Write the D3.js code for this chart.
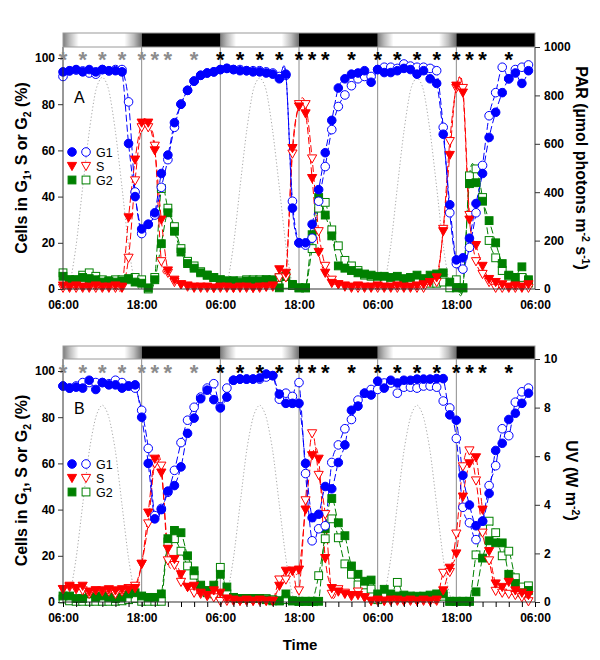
<!DOCTYPE html>
<html><head><meta charset="utf-8">
<script src="https://cdn.jsdelivr.net/npm/d3@7"></script>
<style>body{margin:0;background:#fff}svg{display:block}</style>
</head><body>
<svg id="chart" width="600" height="660"></svg>
<script>
// ---------------- DATA ----------------
const hours = [0,1,2,3,4,5,6,7,8,9,10,11,12,13,14,15,16,17,18,19,20,21,22,23,24,25,26,27,28,29,30,31,32,33,34,35,
  36,37,38,39,40,41,42,43,44,45,46,47,48,49,50,51,52,53,54,55,56,57,58,59,60,61,62,63,64,65,66,67,68,69,70,71];
const tickHours = [0,12,24,36,48,60,72];
const tickLabels = ["06:00","18:00","06:00","18:00","06:00","18:00","06:00"];
const asteriskHours = [0,3,6,9,12,14,16,20,24,27,30,33,36,38,40,44,48,51,54,57,60,62,64,68];
const asteriskGrey = [true,true,true,true,true,true,true,true,false,false,false,false,false,false,false,false,false,false,false,false,false,false,false,false];
const dayStarts = [0,24,48];
const nightStarts = [12,36,60];
const lightHours = [0,1,2,3,4,5,6,7,8,9,10,11,12, 24,25,26,27,28,29,30,31,32,33,34,35,36, 48,49,50,51,52,53,54,55,56,57,58,59,60];
const parValues = [0,20,180,420,650,820,875,820,650,420,180,20,0, 0,20,180,420,650,820,872,820,650,420,180,20,0, 0,20,180,420,650,820,872,820,650,420,180,20,0];
const uvValues = [0,0.3,1.8,4.0,6.2,7.6,8.1,7.6,6.2,4.0,1.8,0.3,0, 0,0.3,1.8,4.0,6.2,7.6,8.1,7.6,6.2,4.0,1.8,0.3,0, 0,0.3,1.8,4.0,6.2,7.6,8.1,7.6,6.2,4.0,1.8,0.3,0];

// Panel A (PAR)
const A_G1_filled = [94,94.5,95,94,95,94,95,94.5,94.5,94, 63,40,26,28,33,50,58,72,80,86, 90,92.5,93.5,94,95,95.5,95,94.5,94.5,94,
  94,93.5,93,91,93,35,20,20,28,43, 59,73,87,91,93,93.5,94.5,89.5,95,93.7, 93.7,94.5,95.5,95,93,94.5,91,89,67,36.5,
  12.6,13.5,22,37,50,65.6,76.5,85,91,93.5, 89,94.5];
const A_G1_open = [92,94.4,94.8,94.4,93.5,93,95,94.4,95,95, 81,42,24,28,32,44,56,70,80,86, 90,92.5,93.5,94,95,95.5,95,95,94.5,94.5,
  94.5,94,93.5,92,92.5,38,20,19,22,38, 53,69,79,84,88,91,92,92,95,96, 96,95.5,97.4,96.5,96,96,95.5,94.5,70,33,
  11,8.6,18,33,53.5,75,85,96,91,95, 96,97];
const A_S_filled = [1.5,1,1.5,1,1,1.5,1,1,1.5,1, 31,56,72,72,60,30,8,4,2,1.5, 1,1,1,0.5,1,1,0.5,1,1,0.5,
  1,1,1.5,8.5,7,61,79,76,48,16, 7,2.6,2,1.5,1,1.5,1,1,1.5,1, 1,1.5,1,1,1.5,2,3,5,25,58,
  88,85,30,19,10,4.3,3,2,1,1.5, 1,2];
const A_S_open = [0.5,0.5,0.5,0.5,0.5,0.5,0.5,0.5,0.5,0.5, 13.5,47,70,70,62,12,7,3,2,1, 0.5,0.5,0.5,0.5,0.5,0.5,0.5,0.5,0.5,0.5,
  0.5,1,1,5,5,58.6,80,80,56.5,25, 10,4,2,1,0.5,0.5,0.5,0.5,0.5,0.5, 0.5,0.5,0.5,0.5,0.5,0.5,3,3,26,64,
  87,87,32,12,6.5,3,0.5,0.5,0.5,0.5, 0.5,0.5];
const A_G2_filled = [5.5,4,4,5,4.5,4,3,3.5,3,3.5, 4.5,3,2.5,0.5,4,19.6,33,25,16,11, 9,7,6,5,4,3.5,3.5,3,3.5,3.5,
  3.5,4,4,0.5,5.5,2,0.5,0.5,23.5,39.6, 32,23,10,9,8,7,6.5,6,5.5,5.5, 5,5.5,4.5,5,6,4.5,6,6.5,7,3,
  0.5,0.5,45.6,46,38,29.6,20,11,6,5, 9.6,4];
const A_G2_open = [7,4,4,6,7,5.5,4,3.5,4,4, 4,5,4,0,5,43.5,35,27,17.5,12, 10,7.5,6,5,4,3.5,3.5,3.5,4,4,
  4,4,3.5,5,2,1.5,0.5,0.5,17.5,35, 37.5,25.6,18.7,12.4,10,8,6,5.5,4,3.5, 4,3,3.5,3,4,3,2.5,2.5,3,0.5,
  4,0.5,49,52,39.6,21,13.5,8,5.6,5, 5,2.6];

// Panel B (UV)
const B_G1_filled = [93.5,92.6,93,92.6,96,92,95,94,94,92.6, 93.5,94,80,60,36,40,48,50.4,58.5,73, 79.6,88,91.7,87.6,84,88.7,96,96.5,96.5,96.5,
  97,98.7,98,90,86,86,86,60,36.5,38, 50,49,60.4,68,83,84.8,90.4,89.6,95.6,92.6, 96,94.8,96,96,96.5,96.5,96.5,96.7,96.7,81,
  78.7,54.8,42,33,35,47,65.6,68.7,79,81.7, 86,90.4];
const B_G1_open = [93.5,92.6,93.5,95,95,95,95,94.5,96,95, 93.5,92.6,83,66.5,37.4,40.5,47.5,57,69,78.7, 84.3,88.7,92.6,94.5,84.5,92.6,96,96.5,96.5,96.5,
  96.5,97.4,98,87.8,90.4,89,95,55.6,26.5,31.7, 33,60.4,68,75,79,87.4,90.4,92,92,94.8, 94.8,90.4,93,93,92.6,93.5,93.5,93,87,84,
  70.8,41,34.3,27,35,50.4,59,75,72,86.5, 91,92.6];
const B_S_filled = [5.5,7,6,7,4.5,5,5,5.5,5,5.5, 5.5,6,16.5,38.7,62,56,23,18.6,12,6.5, 7,4,3,5,4,1.5,1,0.5,1,0.5,
  1,0.5,0.5,7,13.5,13.5,14,40,63.5,62, 19,6,4.5,3.5,3,3,2,0.5,1,0.5, 1,1,0.5,1,0.5,1,0.5,1,5,14.8,
  21,45.6,60,62.6,40,22,8,6.5,8.7,5, 4,3];
const B_S_open = [5.6,6.5,5.5,5,3.5,5,4.5,4.5,3.5,4.5, 6,7,16.5,34,60,59,18,16,8.7,6.5, 4,3.5,2.5,2,0.4,0.5,0.5,0.5,0.5,0.5,
  0.5,0.5,0.5,9.7,9.7,13.5,5,44,73,55, 38,3.5,5.5,4,2.5,4.5,2,0.5,0.5,0.5, 0.5,0.5,0.5,0.5,0.5,0.5,0.5,0.5,12.6,13,
  29.6,58.7,65.6,52.6,30,18,4.8,4,3.5,3, 2,0.3];
const B_G2_filled = [2.6,2.6,1.5,1.5,3.5,2,2.6,2,1.5,2, 3.5,4,2.6,2,2,3.5,27.4,31,30,20, 13.5,7.3,5,7.3,12,6.5,2,1.5,1.5,1.5,
  1.5,1,0.5,0.5,3.5,0.5,0.3,0.3,0.3,0.3, 31.7,44.8,34.3,28.7,15.6,12,9,9.5,3.5,5.5, 3.5,2.6,3,2.6,2.5,2.5,3,3.5,3.5,0.3,
  0.3,0.3,0.3,4.4,19,26.5,25.6,25.6,12,8, 4,5];
const B_G2_open = [1.3,0.5,0.3,0.3,0.3,0.3,0.3,0.3,0.3,0.5, 1,1.5,0.3,0.3,0.3,0.3,26,27.4,22,15.6, 11.6,6.5,4,3.5,15,3.5,2,1.5,1.5,1.5,
  1.5,1.5,1,0.5,1,0.5,0.3,0.3,0.3,11.4, 27.4,36,27.8,16.5,12,7.4,7.4,5.6,1,2.6, 2,8.5,2,2,2,2.5,2.5,2.5,2.5,0.3,
  0.3,0.3,0.3,20.4,32.6,35,30,20,22,10.5, 6.5,7];

const leftTicks = [0,20,40,60,80,100];
const parTicks = [0,200,400,600,800,1000];
const uvTicks = [0,2,4,6,8,10];

// ---------------- DRAW ----------------
const FONT = "'Liberation Sans', Arial, Helvetica, sans-serif";
const BLUE = "#0000ff", RED = "#ff0000", GREEN = "#008000";
const svg = d3.select("#chart");
const defs = svg.append("defs");
const grad = defs.append("linearGradient").attr("id","dayGrad").attr("x1","0").attr("x2","1").attr("y1","0").attr("y2","0");
[[0,"#7c7c7c"],[0.08,"#b8b8b8"],[0.2,"#ffffff"],[0.78,"#ffffff"],[0.9,"#bdbdbd"],[1,"#6e6e6e"]].forEach(s=>
  grad.append("stop").attr("offset",s[0]).attr("stop-color",s[1]));

const x = d3.scaleLinear().domain([0,72]).range([63,535]);

function richText(g, parts, attrs){
  const t = g.append("text");
  Object.entries(attrs).forEach(([k,v])=>t.attr(k,v));
  let shift = 0;
  parts.forEach(p=>{
    const [str, kind] = p;
    const ts = t.append("tspan").text(str);
    let target = 0;
    if(kind==="sub") target = 4; else if(kind==="sup") target = -6;
    ts.attr("dy", target - shift);
    shift = target;
    if(kind) ts.attr("font-size", 10.5);
  });
  return t;
}

function marker(g, type, filled, color, cx, cy){
  const fill = filled ? color : "#fff";
  if(type==="circle"){
    g.append("circle").attr("cx",cx).attr("cy",cy).attr("r",4.3)
      .attr("fill",fill).attr("stroke",color).attr("stroke-width",1);
  } else if(type==="tri"){
    g.append("path").attr("d",`M${cx-4.6},${cy-3.6}L${cx+4.6},${cy-3.6}L${cx},${cy+4.6}Z`)
      .attr("fill",fill).attr("stroke",color).attr("stroke-width",1);
  } else {
    g.append("rect").attr("x",cx-3.9).attr("y",cy-3.9).attr("width",7.8).attr("height",7.8)
      .attr("fill",fill).attr("stroke",color).attr("stroke-width",1);
  }
}

function drawPanel(p){
  const g = svg.append("g");
  const yL = d3.scaleLinear().domain([0,100]).range([p.y0, p.y100]);
  const yR = d3.scaleLinear().domain([0,p.rMax]).range([p.y0, p.top]);

  // light curve (dotted)
  const lineL = d3.line().x(d=>x(d[0])).y(d=>yR(d[1])).curve(d3.curveCardinal.tension(0.2));
  dayStarts.forEach((s,di)=>{
    const pts = [];
    lightHours.forEach((h,i)=>{ if(h>=s && h<=s+12) pts.push([h,p.light[i]]); });
    g.append("path").attr("d",lineL(pts)).attr("fill","none").attr("stroke","#a8a8a8")
      .attr("stroke-width",1).attr("stroke-dasharray","1.2,2.2");
  });

  // separators
  [12,24,36,48,60].forEach(h=>{
    g.append("line").attr("x1",x(h)).attr("x2",x(h)).attr("y1",p.top).attr("y2",p.y0)
      .attr("stroke","#8c8c8c").attr("stroke-width",1);
  });

  // series
  const lineS = d3.line().x((d,i)=>x(hours[i])).y(d=>yL(d)).curve(d3.curveCardinal.tension(0));
  const series = [
    {v:p.G2o, c:GREEN, t:"sq", f:false},{v:p.G2f, c:GREEN, t:"sq", f:true},
    {v:p.So, c:RED, t:"tri", f:false},{v:p.Sf, c:RED, t:"tri", f:true},
    {v:p.G1o, c:BLUE, t:"circle", f:false},{v:p.G1f, c:BLUE, t:"circle", f:true}
  ];
  series.forEach(s=>{
    g.append("path").attr("d",lineS(s.v)).attr("fill","none").attr("stroke",s.c)
      .attr("stroke-width",1).attr("stroke-dasharray","7,3");
  });
  series.forEach(s=>{
    s.v.forEach((v,i)=>marker(g, s.t, s.f, s.c, x(hours[i]), yL(v)));
  });

  // frame
  g.append("line").attr("x1",63).attr("x2",63).attr("y1",p.top).attr("y2",p.y0).attr("stroke","#333");
  g.append("line").attr("x1",535).attr("x2",535).attr("y1",p.top).attr("y2",p.y0).attr("stroke","#333");
  g.append("line").attr("x1",63).attr("x2",535).attr("y1",p.y0).attr("y2",p.y0).attr("stroke","#333");

  // light/dark bar
  dayStarts.forEach(s=>g.append("rect").attr("x",x(s)).attr("y",p.barTop).attr("width",x(s+12)-x(s))
    .attr("height",p.top-p.barTop).attr("fill","url(#dayGrad)"));
  nightStarts.forEach(s=>g.append("rect").attr("x",x(s)).attr("y",p.barTop).attr("width",x(s+12)-x(s))
    .attr("height",p.top-p.barTop).attr("fill","#000"));
  g.append("rect").attr("x",63).attr("y",p.barTop).attr("width",472).attr("height",p.top-p.barTop)
    .attr("fill","none").attr("stroke","#9a9a9a").attr("stroke-width",1);

  // asterisks
  asteriskHours.forEach((h,i)=>{
    g.append("text").attr("x",x(h)).attr("y",p.astY).attr("text-anchor","middle")
      .attr("font-family",FONT).attr("font-weight","bold").attr("font-size",22)
      .attr("fill",asteriskGrey[i] ? "#8c8c8c" : "#000").text("*");
  });

  // axes
  const axL = g.append("g").attr("transform","translate(63,0)")
    .call(d3.axisLeft(yL).tickValues(leftTicks).tickSize(5).tickSizeOuter(0).tickPadding(3));
  const axR = g.append("g").attr("transform","translate(535,0)")
    .call(d3.axisRight(yR).tickValues(p.rTicks).tickFormat(d3.format("d")).tickSize(5).tickSizeOuter(0).tickPadding(4));
  const axB = g.append("g").attr("transform",`translate(0,${p.y0})`)
    .call(d3.axisBottom(x).tickValues(tickHours).tickFormat((d,i)=>tickLabels[i]).tickSize(p.minor?5:0).tickSizeOuter(0).tickPadding(p.minor?6:11));
  if(p.minor){
    g.append("g").attr("transform",`translate(0,${p.y0})`)
      .call(d3.axisBottom(x).tickValues(d3.range(0,73,2)).tickFormat("").tickSize(5).tickSizeOuter(0))
      .call(a=>a.select(".domain").remove());
  }
  [axL,axR,axB].forEach(a=>{
    a.select(".domain").remove();
    a.selectAll("text").attr("font-family",FONT).attr("font-weight","bold").attr("font-size",12).attr("fill","#000");
    a.selectAll("line").attr("stroke","#333");
  });

  // axis titles
  const midY = (p.top+p.y0)/2;
  richText(g, [["Cells in G",null],["1","sub"],[", S or G",null],["2","sub"],[" (%)",null]],
    {transform:`translate(27,${midY}) rotate(-90)`, "text-anchor":"middle", "font-family":FONT,
     "font-weight":"bold","font-size":16});
  richText(g, p.rTitle, {transform:`translate(${p.rTitleX},${midY}) rotate(90)`, "text-anchor":"middle",
     "font-family":FONT,"font-weight":"bold","font-size":16});

  // panel letter
  g.append("text").attr("x",74).attr("y",p.letterY).attr("font-family",FONT).attr("font-size",16).text(p.letter);

  // legend
  const leg = [["G1","circle",BLUE],["S","tri",RED],["G2","sq",GREEN]];
  leg.forEach((L,i)=>{
    const cy = p.legY + i*14;
    marker(g, L[1], true, L[2], 72, cy);
    marker(g, L[1], false, L[2], 86, cy);
    g.append("text").attr("x",96).attr("y",cy+4.5).attr("font-family",FONT).attr("font-size",12.5).text(L[0]);
  });
}

drawPanel({top:47, barTop:33, y0:289, y100:58, rMax:1000, rTicks:parTicks, light:parValues,
  G1f:A_G1_filled, G1o:A_G1_open, Sf:A_S_filled, So:A_S_open, G2f:A_G2_filled, G2o:A_G2_open,
  astY:67, minor:false, letter:"A", letterY:103, legY:152, rTitleX:576,
  rTitle:[["PAR (µmol photons m",null],["-2","sup"],[" s",null],["-1","sup"],[")",null]]});
drawPanel({top:359, barTop:346, y0:602, y100:371, rMax:10, rTicks:uvTicks, light:uvValues,
  G1f:B_G1_filled, G1o:B_G1_open, Sf:B_S_filled, So:B_S_open, G2f:B_G2_filled, G2o:B_G2_open,
  astY:380, minor:true, letter:"B", letterY:414, legY:464, rTitleX:566,
  rTitle:[["UV (W m",null],["-2","sup"],[")",null]]});

svg.append("text").attr("x",300).attr("y",650).attr("text-anchor","middle").attr("font-family",FONT)
  .attr("font-weight","bold").attr("font-size",15).text("Time");
</script>
</body></html>
